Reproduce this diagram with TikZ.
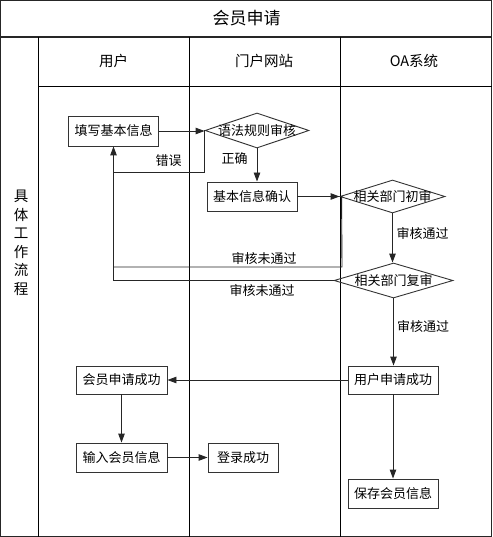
\documentclass[tikz,border=0pt]{standalone}
\usepackage{fontspec}
\setmainfont{Noto Sans CJK SC}
\usetikzlibrary{arrows.meta,shapes.geometric}
\tikzset{
  frame/.style={draw=black!85, line width=1.3pt},
  lane/.style={draw=black, line width=0.9pt},
  box/.style={draw=black!80, line width=0.9pt, minimum width=#1, minimum height=29pt, inner sep=0pt, font=\fontsize{13}{13}\selectfont},
  dia/.style={draw=black!80, line width=0.9pt, diamond, inner sep=0pt},
  diatext/.style={font=\fontsize{13}{13}\selectfont},
  lbl/.style={font=\fontsize{13}{13}\selectfont, inner sep=0pt},
  conn/.style={draw=black!85, line width=0.9pt},
  arr/.style={conn, -{Triangle[length=9pt,width=6.5pt]}}
}
\begin{document}
\begin{tikzpicture}[x=1pt,y=-1pt]
\useasboundingbox (0,0) rectangle (492,537);
% frame and lanes
\draw[frame] (0.65,0.65) rectangle (491.35,536.35);
\draw[frame] (0,37) -- (492,37);
\draw[lane] (38,37) -- (38,537);
\draw[lane] (38,86) -- (492,86);
\draw[lane] (189,37) -- (189,537);
\draw[lane] (340,37) -- (340,537);
% titles
\node[font=\fontsize{17}{17}\selectfont] (title) at (246.5,18.5) {会员申请};
\node[font=\fontsize{14.5}{14.5}\selectfont] (h1) at (113.5,61) {用户};
\node[font=\fontsize{14.5}{14.5}\selectfont] (h2) at (264,61) {门户网站};
\node[font=\fontsize{14.5}{14.5}\selectfont] (h3) at (414,61) {OA系统};
\node[font=\fontsize{14.5}{18.5}\selectfont, align=center] (side) at (21,243) {具\\体\\工\\作\\流\\程};
% boxes
\node[box=90, minimum height=30pt] (n1) at (113.5,131) {填写基本信息};
\node[box=90] (n2) at (252,196.5) {基本信息确认};
\node[box=91, minimum height=28pt] (n3) at (121.5,380) {会员申请成功};
\node[box=91] (n4) at (121.5,457.5) {输入会员信息};
\node[box=70] (n5) at (243,457.5) {登录成功};
\node[box=90, minimum height=28pt] (n6) at (393,380) {用户申请成功};
\node[box=90] (n7) at (393,493.5) {保存会员信息};
% diamonds
\node[dia, minimum width=104pt, minimum height=35pt, label={[diatext]center:语法规则审核}] (d1) at (257,130.5) {};
\node[dia, minimum width=105pt, minimum height=33pt, label={[diatext]center:相关部门初审}] (d2) at (392.5,196.5) {};
\node[dia, minimum width=119pt, minimum height=35pt, label={[diatext]center:相关部门复审}] (d3) at (393.5,280.5) {};
% helper coordinates
\coordinate (k1) at (114,267);
\coordinate (k2) at (342,267);
\coordinate (k3) at (114,172);
% connectors
\draw[arr] (n1.east) -- (n1.east -| d1.west);
\draw[arr] (d1.south) -- (d1.south |- n2.north);
\draw[conn] (d1.west) -- (d1.west |- k3) -- (k3);
\draw[arr] (n2.east) -- (n2.east -| d2.west);
\draw[conn] (d2.west) -- ++(2,0) -- (k2) -- (k1);
\draw[arr] (d2.south) -- (d2.south |- d3.north);
\draw[arr] (d3.west) -| (n1.south);
\draw[arr] (d3.south) -- (d3.south |- n6.north);
\draw[arr] (n6.west) -- (n6.west -| n3.east);
\draw[arr] (n3.south) -- (n4.north);
\draw[arr] (n4.east) -- (n4.east -| n5.west);
\draw[arr] (n6.south) -- (n7.north);
% labels
\node[lbl] (l1) at (168.5,161) {错误};
\node[lbl] (l2) at (234.5,159) {正确};
\node[lbl] (l3) at (422.5,234) {审核通过};
\node[lbl] (l4) at (264,259) {审核未通过};
\node[lbl] (l5) at (262,291) {审核未通过};
\node[lbl] (l6) at (423,327) {审核通过};
\end{tikzpicture}
\end{document}
